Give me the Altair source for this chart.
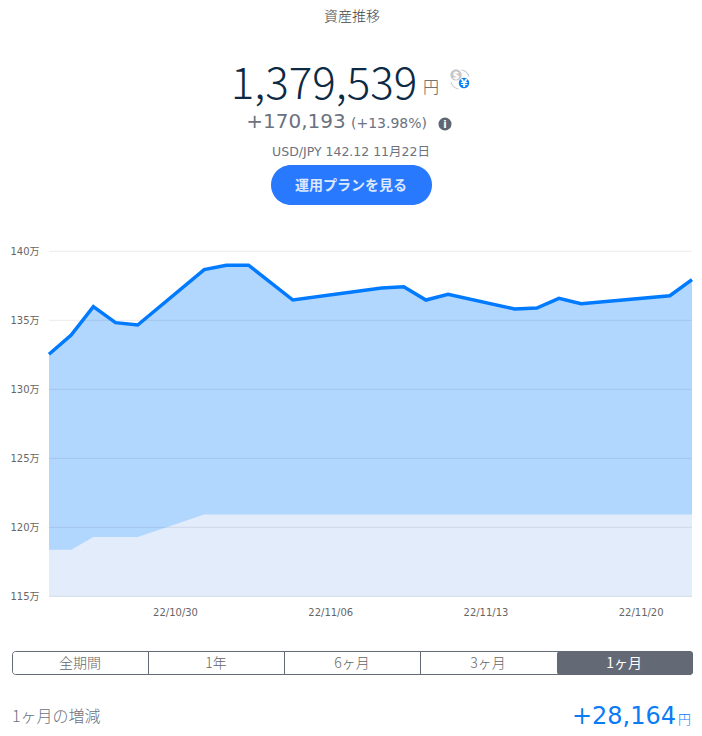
import altair as alt
import pandas as pd

dates = ["2022-10-24","2022-10-25","2022-10-26","2022-10-27","2022-10-28","2022-10-31","2022-11-01","2022-11-02",
         "2022-11-04","2022-11-08","2022-11-09","2022-11-10","2022-11-11","2022-11-14","2022-11-15","2022-11-16",
         "2022-11-17","2022-11-21","2022-11-22"]
total = [132.54,133.93,135.99,134.83,134.66,138.67,138.99,138.99,136.47,137.34,137.43,136.47,136.88,135.82,135.89,
         136.59,136.20,136.78,137.95]
principal = [118.38,118.38,119.30,119.30,119.30,120.93,120.93,120.93,120.93,120.93,120.93,120.93,120.93,120.93,120.93,
             120.93,120.93,120.93,120.93]
y_ticks = [115,120,125,130,135,140]
x_ticks = ["2022-10-30","2022-11-06","2022-11-13","2022-11-20"]
periods = ["全期間","1年","6ヶ月","3ヶ月","1ヶ月"]

OX, OY = 49, 251.3
JP = "DejaVu Sans, Noto Sans CJK JP"
CJK = "Noto Sans CJK JP"
df = pd.DataFrame({"date": dates, "total": total, "principal": principal, "base": 115})

xscale = alt.Scale(type="utc", domain=["2022-10-24","2022-11-22"])
xaxis = alt.Axis(values=x_ticks, labelExpr="utcFormat(datum.value, '%y/%m/%d')", title=None, grid=False, domain=False,
                 ticks=False, labelOffset=-7, labelPadding=11, labelFont=JP, labelFontSize=10, labelColor="#666666", labelFlush=False)
yscale = alt.Scale(domain=[115,140], nice=False, zero=False)
yaxis = alt.Axis(values=y_ticks, labelExpr="datum.value + '万'", title=None, grid=False, domain=False, ticks=False,
                 labelPadding=10, labelFont=JP, labelFontSize=10, labelColor="#666666")
x = alt.X("date:T", scale=xscale, axis=xaxis)
y = alt.Y("total:Q", scale=yscale, axis=yaxis)

base = alt.Chart(df)
area_total = base.mark_area(color="#007aff", opacity=0.3).encode(x=x, y=y, y2="base:Q")
area_princ = base.mark_area(color="#e2ecfb", opacity=1).encode(x=x, y=alt.Y("principal:Q", scale=yscale, axis=yaxis), y2="base:Q")
grid = alt.Chart(pd.DataFrame({"v": y_ticks})).mark_rule(color="#000000", opacity=0.09, strokeWidth=1).encode(y=alt.Y("v:Q", scale=yscale, axis=yaxis))
line = base.mark_line(color="#007aff", strokeWidth=3.5, clip=False).encode(x=x, y=y)


def txt(s, px, py, size, color="#555555", align="center", font=JP, weight=400):
    return alt.Chart(alt.Data(values=[{"t": s}])).mark_text(
        align=align, baseline="alphabetic", fontSize=size, color=color, font=font, fontWeight=weight
    ).encode(x=alt.value(px-OX), y=alt.value(py-OY), text="t:N")


def rect(x0, x1, y0, y1, **kw):
    return alt.Chart(alt.Data(values=[{"k": 1}])).mark_rect(**kw).encode(
        x=alt.value(x0-OX), x2=alt.value(x1-OX), y=alt.value(y0-OY), y2=alt.value(y1-OY))


def dot(px, py, size, **kw):
    return alt.Chart(alt.Data(values=[{"k": 1}])).mark_point(filled=True, shape="circle", size=size, opacity=1, **kw).encode(
        x=alt.value(px-OX), y=alt.value(py-OY))


def arc(px, py, t0, t1):
    return alt.Chart(alt.Data(values=[{"k": 1}])).mark_arc(
        innerRadius=9, outerRadius=10, theta=t0, theta2=t1, color="#c4c7cc"
    ).encode(x=alt.value(px-OX), y=alt.value(py-OY))


PI = 3.14159
layers = [area_total, area_princ, grid, line,
    txt("資産推移", 352, 21, 14, "#444444", font=CJK, weight=300),
    txt("1,379,539", 324, 99, 44, "#0d2a45", font=CJK, weight=200),
    txt("円", 431, 93, 16, "#555555", font=CJK, weight=300),
    txt("+170,193", 296, 128, 20, "#6b7280"),
    txt("(+13.98%)", 389, 128, 14, "#6b7280"),
    dot(445, 124, 170, color="#5f6673"),
    txt("i", 445, 128, 10, "#ffffff", weight=700),
    txt("USD/JPY 142.12 11月22日", 351, 156, 12.5, "#6b7280"),
    rect(271, 432, 165, 205, color="#2979ff", cornerRadius=20),
    txt("運用プランを見る", 351, 190, 14, "#dbe8ff", font=CJK, weight=700),
    arc(460, 79.5, 0.05*PI, 0.4*PI),
    arc(460, 79.5, 1.05*PI, 1.4*PI),
    dot(456, 75, 130, color="#c4c7cc"),
    txt("$", 456, 79, 10, "#ffffff", weight=700),
    dot(464, 83, 110, color="#0a7cf5"),
    txt("¥", 464, 87, 10, "#ffffff", weight=700),
    rect(12.5, 692.5, 651.5, 674.5, fill="#ffffff", stroke="#636a76", strokeWidth=1, cornerRadius=3),
    rect(557, 693, 651, 675, color="#636a76", cornerRadius=3),
    rect(148, 149, 652, 674, color="#636a76"),
    rect(284, 285, 652, 674, color="#636a76"),
    rect(420, 421, 652, 674, color="#636a76"),
    txt(periods[0], 80, 668, 14, "#666666", font=CJK, weight=300),
    txt(periods[1], 216, 668, 14, "#666666", font=CJK, weight=300),
    txt(periods[2], 352, 668, 14, "#666666", font=CJK, weight=300),
    txt(periods[3], 488, 668, 14, "#666666", font=CJK, weight=300),
    txt(periods[4], 624, 668, 14, "#ffffff", font=CJK, weight=400),
    txt("1ヶ月の増減", 12, 722, 16, "#6b7280", align="left", font=CJK, weight=300),
    txt("+28,164", 676, 724, 24, "#0a7cf5", align="right"),
    txt("円", 691, 724, 13, "#0a7cf5", align="right", font=CJK, weight=300),
]

chart = alt.layer(*layers).properties(
    width=643, height=345,
    autosize=alt.AutoSizeParams(type="none"),
    padding={"left": 41, "top": 243.3, "right": 2, "bottom": 131},
).configure_view(stroke=None)

chart.save("out.html", embed_options={"renderer": "svg", "actions": False})
